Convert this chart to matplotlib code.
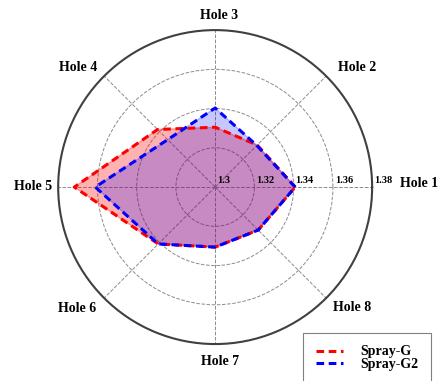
import numpy as np
import matplotlib
matplotlib.use("Agg")
import matplotlib.pyplot as plt

plt.rcParams['font.family'] = ['Liberation Serif', 'DejaVu Serif']
plt.rcParams['font.weight'] = 'bold'

holes = ['Hole 1', 'Hole 2', 'Hole 3', 'Hole 4', 'Hole 5', 'Hole 6', 'Hole 7', 'Hole 8']
spray_g = [1.3408, 1.3303, 1.3305, 1.3415, 1.3718, 1.3410, 1.3306, 1.3310]
spray_g2 = [1.3408, 1.3300, 1.3403, 1.3342, 1.3611, 1.3410, 1.3306, 1.3310]
r_ticks = [1.3, 1.32, 1.34, 1.36, 1.38]
r_tick_labels = ['1.3', '1.32', '1.34', '1.36', '1.38']

angles = np.arange(len(holes)) * 2 * np.pi / len(holes)
ang_closed = np.append(angles, angles[0])
g_closed = np.append(spray_g, spray_g[0])
g2_closed = np.append(spray_g2, spray_g2[0])

fig = plt.figure(figsize=(4.4, 3.81), dpi=100)
ax = fig.add_axes([0.132, 0.097, 0.714, 0.824], projection='polar')

ax.set_ylim(1.30, 1.38)
ax.set_yticks(r_ticks[1:-1])
ax.set_yticklabels([])
ax.set_xticks(angles)
ax.set_xticklabels([])
ax.grid(True, color='#8c8c8c', linestyle='--', linewidth=0.7)
ax.spines['polar'].set_color('#404040')
ax.spines['polar'].set_linewidth(1.5)
ax.tick_params(length=0)

ax.fill(ang_closed, g_closed, color='red', alpha=0.3, zorder=2)
ax.fill(ang_closed, g2_closed, color='blue', alpha=0.22, zorder=2)
ax.plot(ang_closed, g_closed, color='red', linestyle=(0, (2.5, 1.5)), linewidth=2.2,
        label='Spray-G', zorder=3)
ax.plot(ang_closed, g2_closed, color='blue', linestyle=(0, (2.5, 1.5)), linewidth=2.2,
        label='Spray-G2', zorder=3)

# radial value labels, just right of each ring
for r, lab in zip(r_ticks, r_tick_labels):
    ax.annotate(lab, xy=(0, r), xytext=(2, 7), textcoords='offset pixels',
                ha='left', va='center', fontsize=7.5, fontweight='bold',
                annotation_clip=False, zorder=4)

# hole labels, offsets from the centre in pixels
label_offsets = [(204, 4), (142, 120), (4, 172), (-137, 120),
                 (-182, 1), (-138, -121), (5, -174), (137, -120)]
for lab, off in zip(holes, label_offsets):
    ax.annotate(lab, xy=(0, 1.30), xytext=off, textcoords='offset pixels',
                ha='center', va='center', fontsize=10, fontweight='bold',
                annotation_clip=False)

leg = fig.legend(loc='upper left', bbox_to_anchor=(0.689, 0.126), fontsize=10,
                 handlelength=2.0, labelspacing=-0.05, borderpad=0.9,
                 handletextpad=1.2, fancybox=False, edgecolor='#808080',
                 framealpha=1, borderaxespad=0)
leg.get_frame().set_linewidth(0.8)

fig.savefig('out.png', dpi=100)
